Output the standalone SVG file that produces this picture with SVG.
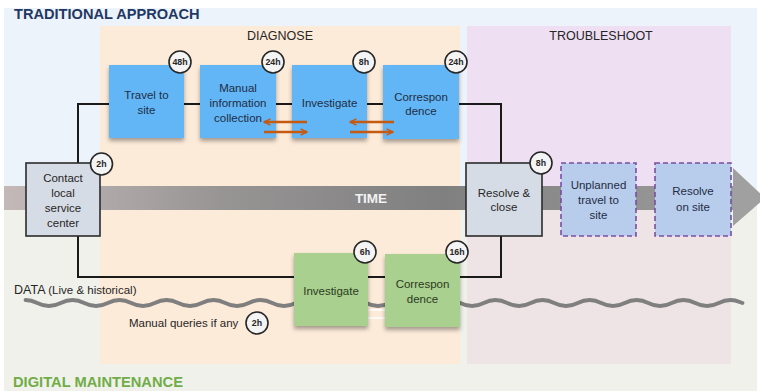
<svg xmlns="http://www.w3.org/2000/svg" width="760" height="391" viewBox="0 0 760 391">
  <defs>
    <style>
      text { font-family: "Liberation Sans", Arial, sans-serif; }
      .lbl { font-size: 11.5px; fill: #1F2D45; text-anchor: middle; }
      .lbl-g { font-size: 11.5px; fill: #2B3A22; text-anchor: middle; }
      .lbl-d { font-size: 11.5px; fill: #262626; text-anchor: middle; }
      .phase { font-size: 12.5px; fill: #262626; text-anchor: middle; }
      .badge circle { fill: #F4F4F4; stroke: #262626; stroke-width: 1.6; }
      .badge text { font-size: 8.8px; font-weight: bold; fill: #262626; text-anchor: middle; }
      .blue { fill: #62B6F6; }
      .green { fill: #A9D08E; }
      .gray { fill: #D6DCE5; stroke: #2B2B2B; stroke-width: 1.6; }
      .dashed { fill: #B8CCEC; stroke: #7A4EA3; stroke-width: 1.6; stroke-dasharray: 5 3; }
      .link { fill: none; stroke: #1A1A1A; stroke-width: 2; }
      .swap { fill: none; stroke: #C55A11; stroke-width: 2.4; }
    </style>
    <filter id="shadow" x="-20%" y="-20%" width="140%" height="150%">
      <feDropShadow dx="0" dy="3" stdDeviation="2" flood-color="#000" flood-opacity="0.35"/>
    </filter>
    <linearGradient id="timeGrad" x1="0" y1="0" x2="1" y2="0">
      <stop offset="0" stop-color="#C4B9B9"/>
      <stop offset="0.3" stop-color="#979494"/>
      <stop offset="0.6" stop-color="#808080"/>
      <stop offset="1" stop-color="#9C9C9C"/>
    </linearGradient>
    <marker id="chev" viewBox="0 0 10 10" refX="9" refY="5" markerWidth="8" markerHeight="8" orient="auto" markerUnits="userSpaceOnUse">
      <path d="M1,1 L9,5 L1,9" fill="none" stroke="#C55A11" stroke-width="1.8"/>
    </marker>
  </defs>

  <!-- background bands -->
  <rect x="0" y="0" width="760" height="391" fill="#FFFFFF"/>
  <rect x="4" y="8" width="753" height="180" fill="#EDF3FA"/>
  <rect x="4" y="188" width="753" height="203" fill="#F1F1EB"/>

  <!-- phase panels -->
  <rect x="100" y="26" width="360" height="338" fill="#FDEBD9"/>
  <rect x="467" y="26" width="264" height="162" fill="#EEDFF3"/>
  <rect x="467" y="188" width="264" height="176" fill="#EFE4E5"/>
  <text class="phase" x="280" y="40">DIAGNOSE</text>
  <text class="phase" x="601" y="40">TROUBLESHOOT</text>

  <!-- section titles -->
  <text x="14" y="19" font-size="14.6" font-weight="bold" fill="#1F3864">TRADITIONAL APPROACH</text>
  <text x="13" y="387" font-size="14.7" font-weight="bold" fill="#70AD47">DIGITAL MAINTENANCE</text>

  <!-- time axis -->
  <g id="time-axis">
    <rect x="4" y="186" width="731" height="24" fill="url(#timeGrad)"/>
    <polygon points="733,168 765,198 733,226" fill="#A0A0A0"/>
    <text x="371" y="203" font-size="13.5" font-weight="bold" fill="#F2F2F2" text-anchor="middle">TIME</text>
  </g>

  <!-- data stream -->
  <g id="data-stream">
    <text x="14" y="294" font-size="12.5" fill="#262626">DATA <tspan font-size="11.5">(Live &amp; historical)</tspan></text>
    <path d="M25.5,300 c11.75,0 11.75,6 23.5,6 s11.75,-6 23.5,-6 s11.75,6 23.5,6 s11.75,-6 23.5,-6 s11.75,6 23.5,6 s11.75,-6 23.5,-6 s11.75,6 23.5,6 s11.75,-6 23.5,-6 s11.75,6 23.5,6 s11.75,-6 23.5,-6 s11.75,6 23.5,6 s11.75,-6 23.5,-6 s11.75,6 23.5,6 s11.75,-6 23.5,-6 s11.75,6 23.5,6 s11.75,-6 23.5,-6 s11.75,6 23.5,6 s11.75,-6 23.5,-6 s11.75,6 23.5,6 s11.75,-6 23.5,-6 s11.75,6 23.5,6 s11.75,-6 23.5,-6 s11.75,6 23.5,6 s11.75,-6 23.5,-6 s11.75,6 23.5,6 s11.75,-6 23.5,-6 s11.75,6 23.5,6 s11.75,-6 23.5,-6 s11.75,6 23.5,6 s11.75,-6 23.5,-6 c6,0 9,2 12,3" fill="none" stroke="#7F7F7F" stroke-width="3.8" stroke-linecap="round"/>
    <path d="M360,310 H392 M360,318 H392" stroke="#FFFFFF" stroke-width="2" opacity="0.8"/>
    <text x="129" y="327" font-size="11.5" fill="#262626">Manual queries if any</text>
    <g class="badge"><circle cx="257" cy="323" r="11"/><text x="257" y="326">2h</text></g>
  </g>

  <!-- connectors -->
  <g id="connectors">
    <path class="link" d="M78,163 V104 H109"/>
    <path class="link" d="M184,104 H200"/>
    <path class="link" d="M276,104 H292"/>
    <path class="link" d="M367,104 H383"/>
    <path class="link" d="M459,104 H501 V163"/>
    <path class="link" d="M78,236 V277 H294"/>
    <path class="link" d="M368,277 H385"/>
    <path class="link" d="M460,277 H501 V236"/>
  </g>

  <!-- traditional path -->
  <g id="contact">
    <rect class="gray" x="26" y="163" width="74" height="73"/>
    <text class="lbl-d" x="63" y="182">Contact</text>
    <text class="lbl-d" x="63" y="197">local</text>
    <text class="lbl-d" x="63" y="212">service</text>
    <text class="lbl-d" x="63" y="227">center</text>
    <g class="badge"><circle cx="101.5" cy="164" r="11"/><text x="101.5" y="167">2h</text></g>
  </g>

  <g id="travel">
    <rect class="blue" x="109" y="65" width="75" height="73" filter="url(#shadow)"/>
    <text class="lbl" x="146.5" y="99">Travel to</text>
    <text class="lbl" x="146.5" y="114">site</text>
    <g class="badge"><circle cx="180" cy="62" r="11"/><text x="180" y="65">48h</text></g>
  </g>

  <g id="manual-collection">
    <rect class="blue" x="200" y="65" width="76" height="73" filter="url(#shadow)"/>
    <text class="lbl" x="238" y="92">Manual</text>
    <text class="lbl" x="238" y="107">information</text>
    <text class="lbl" x="238" y="122">collection</text>
    <g class="badge"><circle cx="273" cy="62" r="11"/><text x="273" y="65">24h</text></g>
  </g>

  <g id="investigate-trad">
    <rect class="blue" x="292" y="65" width="75" height="73" filter="url(#shadow)"/>
    <text class="lbl" x="329.5" y="107">Investigate</text>
    <g class="badge"><circle cx="364" cy="62" r="11"/><text x="364" y="65">8h</text></g>
  </g>

  <g id="correspondence-trad">
    <rect class="blue" x="383" y="65" width="76" height="74" filter="url(#shadow)"/>
    <text class="lbl" x="421" y="101">Correspon</text>
    <text class="lbl" x="421" y="115">dence</text>
    <g class="badge"><circle cx="456" cy="62" r="11"/><text x="456" y="65">24h</text></g>
  </g>

  <!-- back-and-forth exchanges -->
  <g id="exchanges">
    <path class="swap" d="M307,122 H264" marker-end="url(#chev)"/>
    <path class="swap" d="M264,132 H307" marker-end="url(#chev)"/>
    <path class="swap" d="M394,122 H350" marker-end="url(#chev)"/>
    <path class="swap" d="M350,132 H393" marker-end="url(#chev)"/>
  </g>

  <g id="resolve-close">
    <rect class="gray" x="466" y="163" width="76" height="73"/>
    <text class="lbl-d" x="504" y="197">Resolve &amp;</text>
    <text class="lbl-d" x="504" y="211">close</text>
    <g class="badge"><circle cx="541" cy="163" r="11"/><text x="541" y="166">8h</text></g>
  </g>

  <g id="unplanned-travel">
    <rect class="dashed" x="561" y="163" width="75" height="73"/>
    <text class="lbl" x="598.5" y="189">Unplanned</text>
    <text class="lbl" x="598.5" y="204">travel to</text>
    <text class="lbl" x="598.5" y="219">site</text>
  </g>

  <g id="resolve-site">
    <rect class="dashed" x="655" y="163" width="76" height="73"/>
    <text class="lbl" x="693" y="195">Resolve</text>
    <text class="lbl" x="693" y="211">on site</text>
  </g>

  <!-- digital path -->
  <g id="investigate-digital">
    <rect class="green" x="294" y="253" width="74" height="73" filter="url(#shadow)"/>
    <text class="lbl-g" x="331" y="295">Investigate</text>
    <g class="badge"><circle cx="365" cy="252" r="11"/><text x="365" y="255">6h</text></g>
  </g>

  <g id="correspondence-digital">
    <rect class="green" x="385" y="254" width="75" height="73" filter="url(#shadow)"/>
    <text class="lbl-g" x="422.5" y="288">Correspon</text>
    <text class="lbl-g" x="422.5" y="303">dence</text>
    <g class="badge"><circle cx="457" cy="252" r="11"/><text x="457" y="255">16h</text></g>
  </g>
</svg>
